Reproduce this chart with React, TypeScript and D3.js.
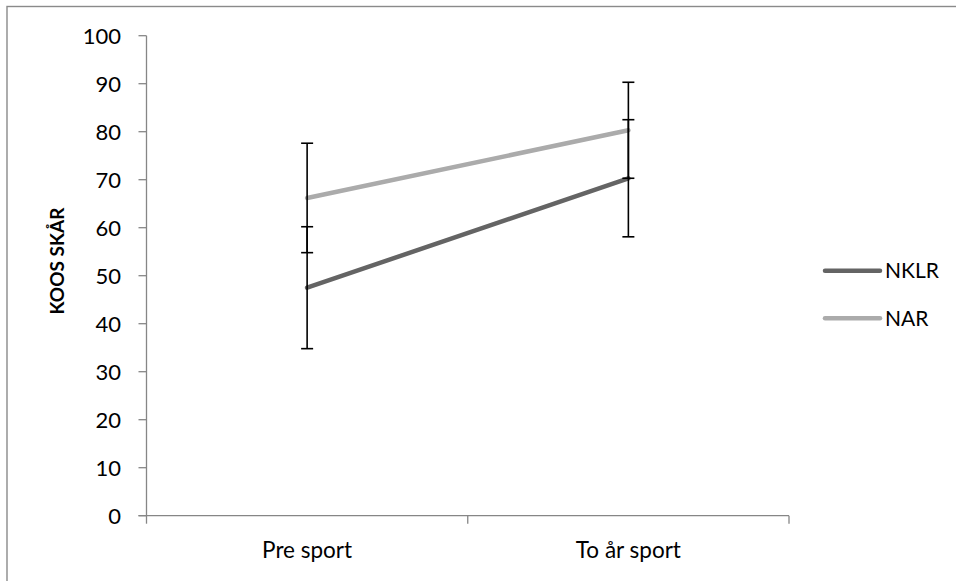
import React from "react";
import * as d3 from "d3";

const categories = ["Pre sport", "To år sport"];
const seriesNames = ["NKLR", "NAR"];
const nklrValues = [47.5, 70.3];
const nklrErrors = [12.7, 12.2];
const narValues = [66.2, 80.3];
const narErrors = [11.4, 10.0];
const yTicks = [0, 10, 20, 30, 40, 50, 60, 70, 80, 90, 100];
const yTitle = "KOOS SKÅR";

const colors = ["#646464", "#ABABAB"];
const FONT = "Lato, 'Open Sans', sans-serif";

export default function App() {
  const W = 956, H = 581;
  const left = 146.5, right = 789, top = 35.7, bottom = 515.7;
  const x = d3.scaleBand<string>().domain(categories).range([left, right]).padding(0);
  const y = d3.scaleLinear().domain([0, 100]).range([bottom, top]);
  const cx = (c: string) => (x(c) as number) + x.bandwidth() / 2;

  const series = [
    { name: seriesNames[0], values: nklrValues, errors: nklrErrors, color: colors[0] },
    { name: seriesNames[1], values: narValues, errors: narErrors, color: colors[1] },
  ];
  const line = d3
    .line<number>()
    .x((_, i) => cx(categories[i]))
    .y((v) => y(v));

  const axisColor = "#868686";
  const xTickPositions = [left, ...categories.slice(1).map((c) => x(c) as number), right];

  return (
    <svg
      width={W}
      height={H}
      style={{ position: "absolute", left: 0, top: 0, background: "#fff" }}
    >
      <rect x={7} y={6.5} width={W + 20} height={H + 20} fill="none" stroke="#8a8a8a" strokeWidth={1.4} />
      {/* y axis */}
      <line x1={left} x2={left} y1={top} y2={bottom} stroke={axisColor} strokeWidth={1.3} />
      {yTicks.map((t) => (
        <g key={t}>
          <line x1={left - 8} x2={left} y1={y(t)} y2={y(t)} stroke={axisColor} strokeWidth={1.3} />
          <text
            x={121}
            y={y(t)}
            dy="0.36em"
            textAnchor="end"
            fontFamily={FONT}
            fontSize={22}
            fill="#000"
          >
            {t}
          </text>
        </g>
      ))}
      {/* x axis */}
      <line x1={left - 8} x2={right} y1={bottom} y2={bottom} stroke={axisColor} strokeWidth={1.3} />
      {xTickPositions.map((p, i) => (
        <line key={i} x1={p} x2={p} y1={bottom} y2={bottom + 8} stroke={axisColor} strokeWidth={1.3} />
      ))}
      {categories.map((c) => (
        <text key={c} x={cx(c)} y={558} textAnchor="middle" fontFamily={FONT} fontSize={22.5} fill="#000">
          {c}
        </text>
      ))}
      {/* y title */}
      <text
        transform={`translate(64, 261) rotate(-90)`}
        textAnchor="middle"
        fontFamily={FONT}
        fontWeight="bold"
        fontSize={19}
        fill="#000"
      >
        {yTitle}
      </text>
      {/* lines */}
      {series.map((s) => (
        <path
          key={s.name}
          d={line(s.values) as string}
          fill="none"
          stroke={s.color}
          strokeWidth={4.5}
          strokeLinecap="round"
        />
      ))}
      {/* error bars */}
      {series.map((s) =>
        s.values.map((v, i) => {
          const px = cx(categories[i]);
          const y1 = y(v + s.errors[i]);
          const y2 = y(v - s.errors[i]);
          return (
            <g key={s.name + i} stroke="#000" strokeWidth={1.6}>
              <line x1={px} x2={px} y1={y1} y2={y2} />
              <line x1={px - 6} x2={px + 6} y1={y1} y2={y1} />
              <line x1={px - 6} x2={px + 6} y1={y2} y2={y2} />
            </g>
          );
        })
      )}
      {/* legend */}
      {series.map((s, i) => {
        const ly = 270.7 + i * 47.6;
        return (
          <g key={s.name}>
            <line x1={825} x2={880} y1={ly} y2={ly} stroke={s.color} strokeWidth={4.5} strokeLinecap="round" />
            <text x={885} y={ly} dy="0.36em" fontFamily={FONT} fontSize={21} fill="#000">
              {s.name}
            </text>
          </g>
        );
      })}
    </svg>
  );
}
